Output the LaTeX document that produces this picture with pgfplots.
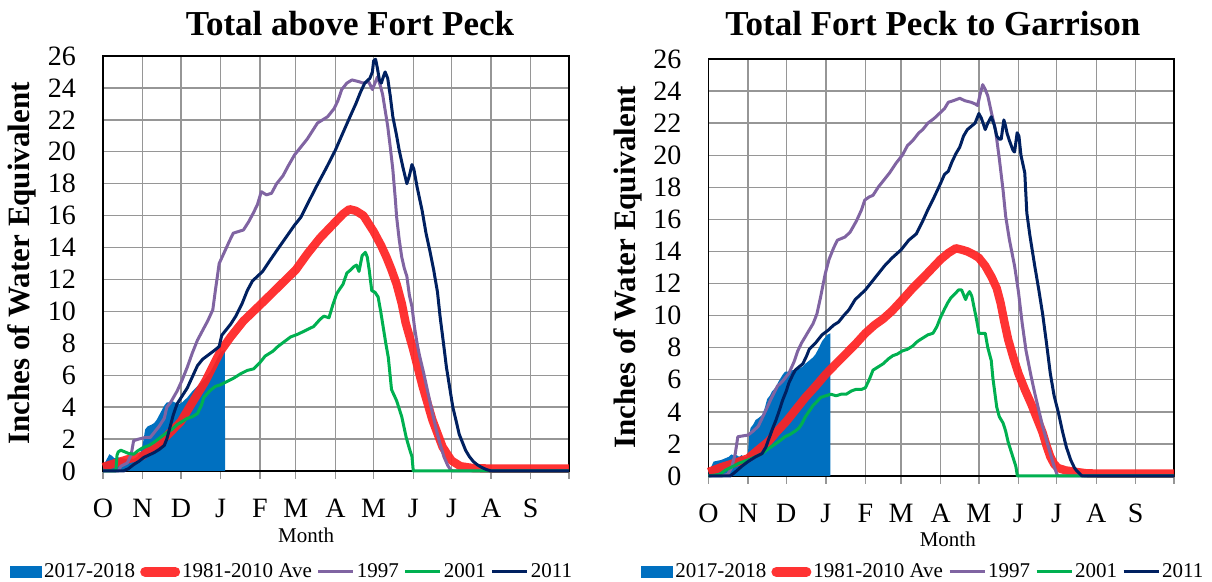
\documentclass[border=0pt]{standalone}
\usepackage{fontspec}
\setmainfont{Liberation Serif}
\usepackage{pgfplots}
\pgfplotsset{compat=1.18}

\definecolor{cBlue}{RGB}{0,112,192}
\definecolor{cRed}{RGB}{255,34,34}
\definecolor{cPurple}{RGB}{128,100,162}
\definecolor{cGreen}{RGB}{0,176,80}
\definecolor{cNavy}{RGB}{0,32,96}
\definecolor{cGrid}{RGB}{150,150,150}

\pgfplotsset{
  swe/.style={
    scale only axis,
    anchor=south west,
    xmin=0, xmax=365, ymin=0, ymax=26,
    xtick={0,31,61,92,123,151,182,212,243,273,304,335,365},
    xticklabels={O,N,D,J,F,M,A,M,J,J,A,S,},
    ytick={0,2,...,26},
    grid=major,
    major grid style={draw=cGrid, line width=0.7pt},
    axis line style={draw=black, line width=0.9pt},
    xtick pos=lower, ytick pos=left,
    tick align=outside,
    major tick length=4pt,
    xtick style={draw=cGrid, line width=0.7pt},
    ytick style={draw=none},
    /pgf/number format/assume math mode=true,
    tick label style={font=\fontsize{14}{16}\selectfont},
    xticklabel style={text height=9.5pt, text depth=0pt, yshift=-6pt},
    yticklabel style={xshift=-6pt},
    ylabel={Inches of Water Equivalent},
    ylabel style={font=\fontsize{15.5}{17}\selectfont\bfseries, anchor=center},
    xlabel={Month},
    xlabel style={font=\fontsize{10.5}{12}\selectfont, anchor=base},
    title style={font=\fontsize{17.5}{20}\selectfont\bfseries, anchor=base},
    clip=false,
    legend columns=5,
    legend style={draw=none, fill=none, font=\fontsize{10.5}{12}\selectfont,
      inner sep=0pt, anchor=west,
      /tikz/every even column/.append style={column sep=1.5pt},
      nodes={inner sep=1pt}},
  },
  snow/.style={fill=cBlue, draw=none, area legend,
    legend image code/.code={\fill[##1] (0pt,-3pt) rectangle (16pt,3pt);}},
  ave/.style={cRed, line width=4.2pt, opacity=0.92, line join=round,
    legend image code/.code={\draw[##1, line width=5pt, line cap=round] (2pt,0pt) -- (17pt,0pt);}},
  thin/.style={line width=1.5pt, line join=round,
    legend image code/.code={\draw[##1] (0pt,0pt) -- (17.5pt,0pt);}},
}

\begin{document}
\begin{tikzpicture}
\useasboundingbox (0,0) rectangle (606pt,291pt);

% ---------------- left: Total above Fort Peck ----------------
\begin{axis}[swe,
  at={(51.5pt,55.5pt)}, width=233pt, height=207.5pt,
  title={Total above Fort Peck},
  title style={at={(axis description cs:0.53,1)}, yshift=4pt},
  ylabel style={at={(axis description cs:-0.174,0.5)}},
  xlabel style={at={(axis description cs:0.436,0)}, yshift=-36pt},
  legend style={at={(axis description cs:-0.2,-0.243)}},
]
\addplot[snow] coordinates {(0,0.3) (2,0.6) (4,0.9) (5,1.05) (7,0.95) (9,0.8) (12,0.85) (15,0.8) (18,0.75) (21,0.8) (24,0.75) (27,0.9) (29,1.1) (31,1.6) (33,2.6) (35,2.8) (38,2.9) (40,3.0) (42,3.2) (44,3.5) (46,3.8) (48,4.1) (50,4.3) (52,4.3) (54,4.4) (56,4.3) (60,4.2) (62,4.3) (66,4.6) (70,5.0) (75,5.4) (80,5.8) (84,6.2) (88,6.8) (91,7.3) (93,7.5) (95.5,7.6) (95.6,0)} \closedcycle;
\addlegendentry{2017-2018}
\addplot[ave] coordinates {(0,0.25) (10,0.5) (20,0.75) (31,0.95) (40,1.5) (50,2.2) (61,3.1) (70,4.3) (80,5.6) (92,7.5) (100,8.4) (110,9.4) (123,10.4) (137,11.5) (151,12.6) (160,13.6) (170,14.6) (182,15.6) (188,16.1) (193,16.4) (198,16.3) (204,16.0) (212,15.0) (218,14.1) (222,13.4) (226,12.6) (230,11.7) (234,10.5) (237,9.3) (243,7.6) (250,5.4) (258,3.2) (266,1.5) (273,0.65) (280,0.3) (290,0.18) (304,0.15) (365,0.15)};
\addlegendentry{1981-2010 Ave}
\addplot[thin, cPurple] coordinates {(0,0) (12,0) (14,0.3) (19,0.5) (22,1.0) (24,1.9) (28,2.0) (33,2.1) (37,2.1) (40,2.4) (44,2.8) (48,3.3) (50,4.0) (53,4.3) (58,5.0) (62,5.7) (66,6.5) (70,7.4) (74,8.2) (78,8.8) (82,9.4) (86,10.1) (88,11.3) (91,13.0) (95,13.7) (99,14.4) (102,14.9) (106,15.0) (110,15.1) (114,15.6) (118,16.2) (121,16.7) (124,17.5) (128,17.3) (132,17.4) (136,18.0) (141,18.5) (145,19.1) (150,19.8) (155,20.3) (160,20.8) (164,21.3) (168,21.8) (172,22.0) (176,22.2) (181,22.7) (184,23.2) (187,23.9) (191,24.3) (195,24.5) (200,24.4) (204,24.3) (208,24.4) (211,23.9) (213,24.3) (215,24.7) (217,24.2) (219,23.6) (221,22.6) (223,21.6) (225,20.3) (227,18.9) (229,17.0) (230,15.9) (232,14.5) (234,13.4) (236,12.7) (238,12.2) (240,11.0) (242,10.3) (244,9.0) (246,8.0) (248,7.2) (251,6.2) (254,5.1) (257,4.0) (261,2.6) (264,1.7) (267,0.9) (270,0.35) (272,0.1) (274,0) (365,0)};
\addlegendentry{1997}
\addplot[thin, cGreen] coordinates {(0,0) (10,0) (11,1.0) (12,1.2) (14,1.3) (17,1.2) (20,1.1) (24,1.05) (27,1.25) (31,1.45) (36,1.6) (40,1.8) (45,2.1) (50,2.4) (54,2.6) (58,2.9) (62,3.1) (66,3.3) (70,3.4) (74,3.6) (77,4.1) (79,4.6) (84,5.05) (88,5.3) (92,5.4) (97,5.6) (102,5.8) (108,6.1) (113,6.3) (118,6.4) (123,6.8) (127,7.2) (133,7.5) (137,7.8) (142,8.1) (147,8.4) (152,8.55) (156,8.7) (161,8.9) (165,9.05) (170,9.5) (173,9.7) (177,9.6) (180,10.4) (183,11.1) (185,11.35) (188,11.7) (191,12.4) (194,12.6) (196.5,12.8) (198.5,12.9) (200.5,12.5) (203,13.5) (205.5,13.7) (207,13.4) (208.5,12.6) (210.5,11.3) (213,11.2) (215.5,10.9) (217.5,10.0) (219.5,9.0) (221.5,8.0) (223.5,7.1) (226,5.1) (230,4.4) (234,3.4) (237.5,2.1) (240,1.4) (242,0.9) (242.8,0.2) (243,0) (365,0)};
\addlegendentry{2001}
\addplot[thin, cNavy] coordinates {(0,0) (16,0) (20,0.15) (24,0.4) (28,0.6) (32,0.85) (36,1.0) (40,1.15) (44,1.35) (48,1.6) (50,2.0) (52,2.6) (55,3.5) (58,4.2) (62,4.7) (66,5.2) (70,5.9) (74,6.6) (78,7.0) (83,7.3) (88,7.6) (91,7.8) (93,8.5) (96,8.8) (100,9.2) (104,9.7) (109,10.5) (113,11.3) (117,11.9) (121,12.2) (125,12.5) (130,13.1) (136,13.8) (143,14.6) (150,15.4) (155,15.9) (160,16.7) (167,17.8) (175,19.0) (182,20.1) (188,21.2) (193.5,22.2) (198,23.0) (201.5,23.7) (205,24.3) (209,24.6) (211,25.0) (212,25.7) (213.5,25.8) (215,25.2) (216.5,24.5) (218,24.3) (220,24.8) (221,25.0) (223,24.6) (225,23.5) (227,22.2) (230,21.0) (232,20.1) (235,19.0) (238,18.0) (240,18.5) (242,19.2) (243.5,18.9) (246,17.8) (250,16.3) (253,14.9) (256,13.8) (259,12.6) (262,11.2) (264,9.7) (267,7.8) (269,6.5) (272,5.0) (274,4.0) (277,3.0) (279,2.3) (282,1.7) (284,1.3) (287,0.9) (290,0.6) (293,0.4) (296,0.25) (300,0.1) (304,0) (365,0)};
\addlegendentry{2011}
\end{axis}

% ---------------- right: Total Fort Peck to Garrison ----------------
\begin{axis}[swe,
  at={(354.25pt,53pt)}, width=232.75pt, height=208.5pt,
  title={Total Fort Peck to Garrison},
  title style={at={(axis description cs:0.482,1)}, yshift=5.5pt},
  ylabel style={at={(axis description cs:-0.173,0.5)}},
  xlabel style={at={(axis description cs:0.514,0)}, yshift=-35.5pt},
  legend style={at={(axis description cs:-0.145,-0.230)}},
]
\addplot[snow] coordinates {(0,0.3) (2,0.55) (4,0.9) (7,0.95) (10,1.0) (13,1.1) (16,1.2) (18,1.35) (20,1.25) (22,1.3) (24,1.2) (26,1.3) (28,1.15) (30,1.2) (31,1.5) (32,2.6) (33,3.0) (35,3.2) (37,3.5) (39,3.6) (42,3.8) (44,4.2) (46,4.8) (48,5.0) (50,5.3) (52.5,5.5) (55,5.9) (58,6.3) (60,6.5) (63,6.5) (66,6.6) (68,6.6) (71,6.7) (73.5,6.8) (76,7.0) (79,7.2) (82,7.4) (84,7.6) (86,7.9) (89,8.4) (91,8.6) (93,8.8) (95.5,8.9) (95.6,0)} \closedcycle;
\addlegendentry{2017-2018}
\addplot[ave] coordinates {(0,0.25) (10,0.55) (20,0.8) (31,1.1) (40,1.7) (47,2.15) (54,2.8) (61,3.4) (68,4.1) (76,4.9) (84,5.6) (92,6.35) (100,7.0) (105,7.4) (115,8.2) (123,8.9) (130,9.4) (137,9.8) (144,10.3) (151,10.9) (160,11.7) (170,12.5) (182,13.5) (188,13.9) (194,14.2) (199,14.1) (203,14.0) (208,13.8) (212,13.6) (217,13.1) (222,12.4) (226,11.7) (229,10.8) (232,9.6) (235,8.5) (239,7.4) (243,6.4) (248,5.4) (253,4.5) (258,3.5) (262,2.7) (265,1.9) (268,1.2) (271,0.75) (274,0.5) (280,0.35) (287,0.27) (296,0.17) (305,0.15) (365,0.15)};
\addlegendentry{1981-2010 Ave}
\addplot[thin, cPurple] coordinates {(0,0) (10,0) (15,0.1) (18,0.5) (21,1.4) (23,2.45) (27,2.5) (31,2.55) (35,2.8) (39,3.1) (42,3.6) (45,4.1) (49,4.8) (54,5.6) (58,5.9) (63,6.4) (67,7.1) (70,7.8) (73,8.3) (76,8.7) (79,9.1) (82,9.5) (85,10.1) (88,11.2) (91.5,12.6) (94.5,13.5) (98,14.2) (101,14.7) (104,14.8) (107,14.9) (111,15.2) (116,15.9) (120,16.6) (122.5,17.2) (126,17.4) (129,17.5) (133,18.0) (138,18.5) (142,18.9) (147,19.5) (152,20.0) (156,20.6) (160,20.9) (165,21.4) (168,21.6) (172,22.0) (177,22.3) (181,22.6) (185,22.9) (188,23.3) (192,23.4) (197,23.55) (201,23.4) (206,23.3) (209,23.2) (211,23.1) (213,23.8) (215,24.4) (217,24.1) (219,23.7) (222,22.6) (225,21.6) (228,19.8) (231,17.8) (233,16.2) (236,14.7) (238,13.9) (240,13.1) (243,11.5) (246,9.5) (249,7.8) (253,6.2) (256,5.1) (259,4.1) (262,3.1) (265,2.25) (268,1.4) (271,0.6) (273,0.15) (274,0) (365,0)};
\addlegendentry{1997}
\addplot[thin, cGreen] coordinates {(0,0) (9,0.1) (13,0.35) (18,0.55) (24,0.8) (31,1.0) (37,1.2) (42,1.4) (47,1.7) (52.5,2.0) (56,2.2) (60,2.45) (64,2.6) (68,2.8) (71,3.0) (73.5,3.3) (76,3.7) (79,4.05) (82,4.4) (84,4.55) (88,4.9) (92,5.0) (96,5.1) (100,5.0) (104,5.1) (108,5.1) (112,5.3) (115.6,5.4) (120,5.4) (123,5.5) (126,6.0) (129,6.6) (133,6.8) (137,7.0) (141,7.3) (144.5,7.5) (148,7.6) (152,7.8) (156,7.9) (160,8.1) (164,8.4) (168,8.6) (172,8.8) (176,8.9) (179,9.3) (182,9.9) (185,10.4) (187.6,10.8) (190,11.1) (193.8,11.4) (196,11.6) (198.5,11.6) (200,11.3) (201.6,11.0) (203,11.3) (204.7,11.5) (206.5,11.2) (208,10.6) (209.3,10.1) (211,9.4) (212,8.9) (215,8.9) (217,8.9) (219,8.0) (221.7,7.2) (223,6.1) (226,4.3) (228,3.7) (231,3.3) (233,2.8) (235,2.1) (237,1.6) (239,1.1) (241,0.6) (241.9,0.15) (242,0) (365,0)};
\addlegendentry{2001}
\addplot[thin, cNavy] coordinates {(0,0) (17,0) (21,0.25) (26,0.6) (31,0.9) (37,1.2) (42,1.4) (45,1.8) (47,2.25) (50,2.9) (53,3.5) (56,4.2) (58,4.7) (61,5.3) (63,5.8) (66,6.3) (68,6.6) (71,6.8) (74,7.0) (77,7.5) (79,7.9) (84,8.3) (89,8.8) (94,9.1) (98,9.4) (102,9.6) (106,10.0) (110,10.35) (115,11.0) (119,11.3) (123,11.6) (130,12.3) (138,13.1) (144,13.6) (151,14.1) (157,14.7) (163,15.1) (168,15.9) (172,16.6) (177,17.4) (182,18.25) (185,18.8) (188,19.0) (191,19.6) (194,20.1) (197,20.5) (200,21.2) (203,21.6) (206,21.8) (209,22.0) (212,22.6) (214,22.3) (217,21.6) (219,22.0) (221.7,22.4) (224,21.9) (226,21.2) (228,21.0) (229.5,21.0) (231.6,22.2) (233,21.8) (234,21.4) (236,20.9) (238.8,20.3) (240,20.2) (242,21.4) (243.4,21.2) (245,20.0) (248,18.9) (249.6,16.4) (252,15.0) (255.8,13.1) (259,11.6) (262,10.1) (265,8.3) (268,6.4) (271,5.0) (274.5,3.9) (277.5,2.8) (280.6,1.8) (284,1.0) (287,0.5) (289,0.3) (291.5,0.1) (293,0) (365,0)};
\addlegendentry{2011}
\end{axis}
\end{tikzpicture}
\end{document}
